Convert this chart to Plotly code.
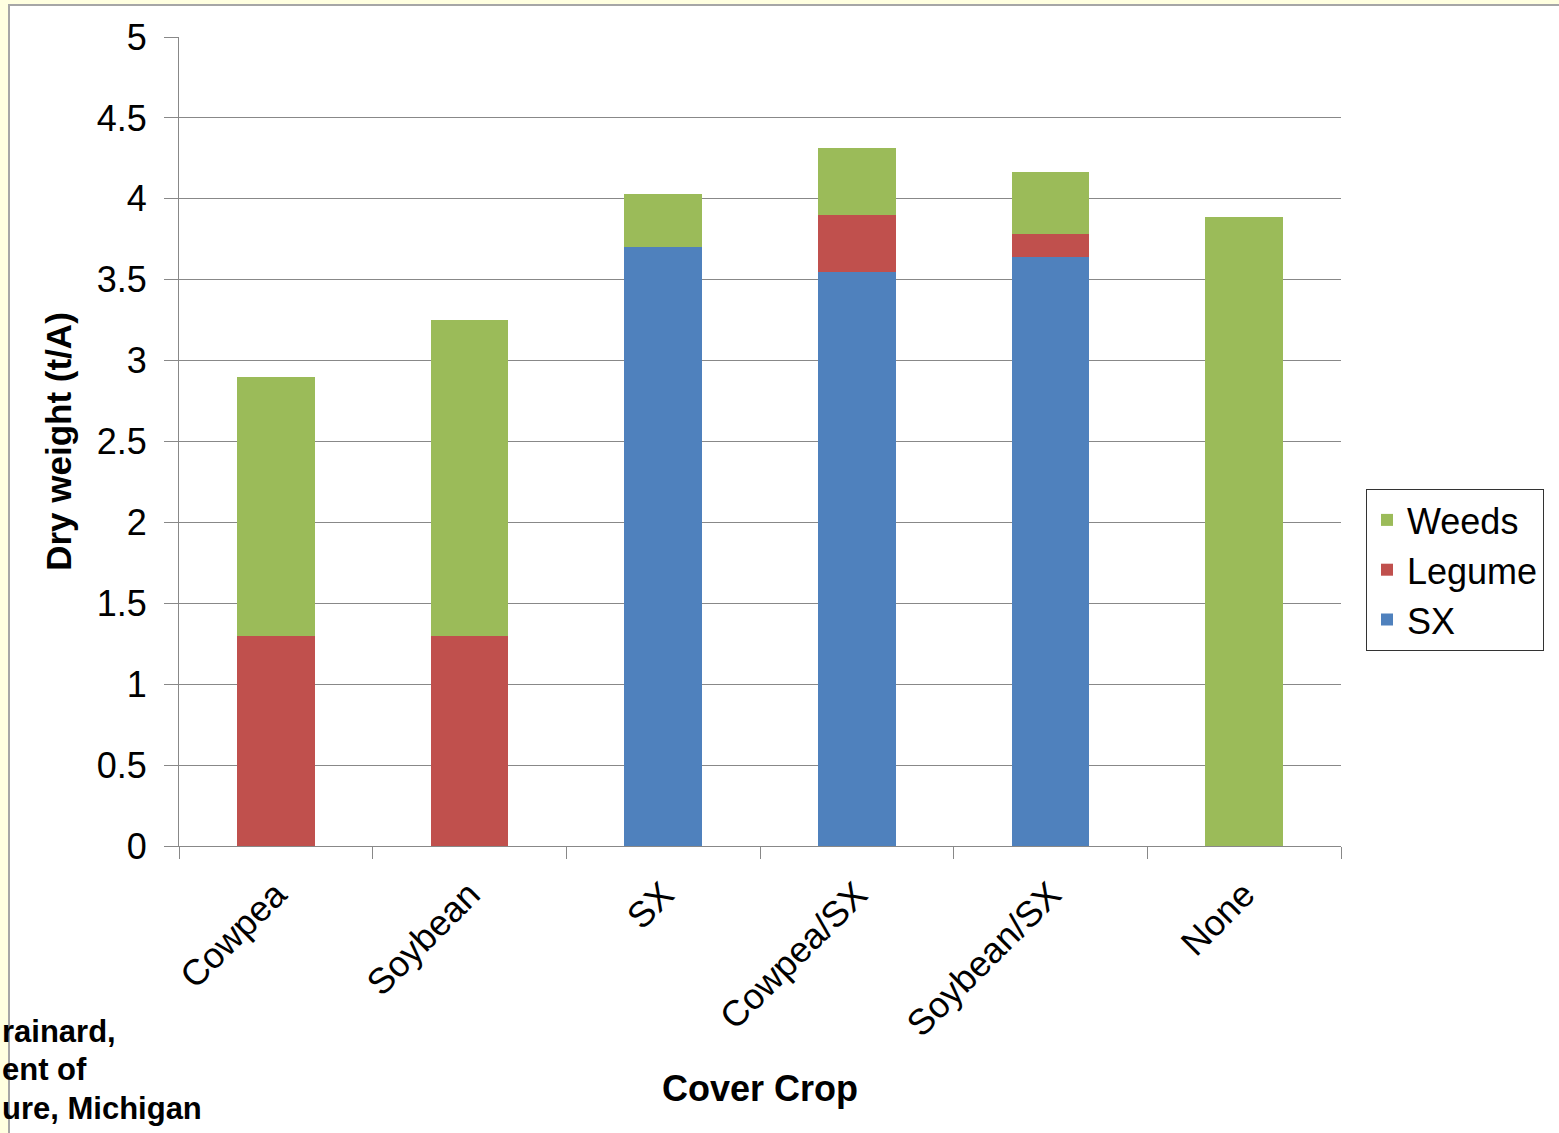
import plotly.graph_objects as go

categories = ["Cowpea", "Soybean", "SX", "Cowpea/SX", "Soybean/SX", "None"]
sx_vals = [0, 0, 3.70, 3.55, 3.64, 0]
legume_vals = [1.30, 1.30, 0, 0.35, 0.145, 0]
weeds_vals = [1.60, 1.95, 0.33, 0.415, 0.38, 3.89]
y_ticks = [0, 0.5, 1, 1.5, 2, 2.5, 3, 3.5, 4, 4.5, 5]
y_tick_text = ["0", "0.5", "1", "1.5", "2", "2.5", "3", "3.5", "4", "4.5", "5"]
credit_lines = ["rainard,", "ent of", "ure, Michigan"]

W, H = 1559, 1133
L, R, T, B = 179, 1341, 37, 846
pw, ph = R - L, B - T

def px(x):
    return (x - L) / pw

def py(y):
    return (B - y) / ph

font_family = "Liberation Sans, Arial, sans-serif"

fig = go.Figure()
fig.add_trace(go.Bar(name="SX", x=categories, y=sx_vals, marker_color="#4F81BD", marker_line_width=0))
fig.add_trace(go.Bar(name="Legume", x=categories, y=legume_vals, marker_color="#C0504D", marker_line_width=0))
fig.add_trace(go.Bar(name="Weeds", x=categories, y=weeds_vals, marker_color="#9BBB59", marker_line_width=0))

shapes = [
    dict(type="rect", xref="paper", yref="paper",
         x0=px(9), x1=px(W + 10), y0=py(H + 10), y1=py(5),
         fillcolor="white", line=dict(color="#A6A6A6", width=2), layer="below"),
]

annotations = []
for i, line in enumerate(credit_lines):
    annotations.append(dict(
        text="<b>" + line + "</b>", xref="paper", yref="paper",
        x=px(0), y=py(1031 + i * 38.5), xanchor="left", yanchor="middle",
        showarrow=False, font=dict(family=font_family, size=31, color="black"),
    ))

fig.update_layout(
    width=W, height=H,
    margin=dict(l=L, r=W - R, t=T, b=H - B, autoexpand=False),
    paper_bgcolor="#FFFFE0",
    plot_bgcolor="white",
    barmode="stack",
    bargap=0.6,
    font=dict(family=font_family, color="black"),
    shapes=shapes,
    annotations=annotations,
    legend=dict(
        x=px(1366), y=py(489), xanchor="left", yanchor="top",
        traceorder="reversed",
        bordercolor="#333333", borderwidth=1, bgcolor="white",
        font=dict(family=font_family, size=36, color="black"),
        itemwidth=30, tracegroupgap=0,
    ),
    xaxis=dict(
        showline=True, linecolor="#888888", linewidth=1,
        ticks="outside", tickson="boundaries", ticklen=12, tickcolor="#888888",
        tickangle=-45, tickfont=dict(size=36), ticklabelstandoff=12,
        title=dict(text="<b>Cover Crop</b>", font=dict(size=36), standoff=32),
        showgrid=False,
    ),
    yaxis=dict(
        range=[0, 5], tickvals=y_ticks, ticktext=y_tick_text,
        showline=True, linecolor="#888888", linewidth=1,
        ticks="outside", ticklen=14, tickcolor="#888888",
        tickfont=dict(size=36), ticklabelstandoff=10,
        showgrid=True, gridcolor="#888888", gridwidth=1,
        zeroline=False,
        title=dict(text="<b>Dry weight (t/A)</b>", font=dict(size=35), standoff=14),
    ),
)

fig.write_html("out.html")
